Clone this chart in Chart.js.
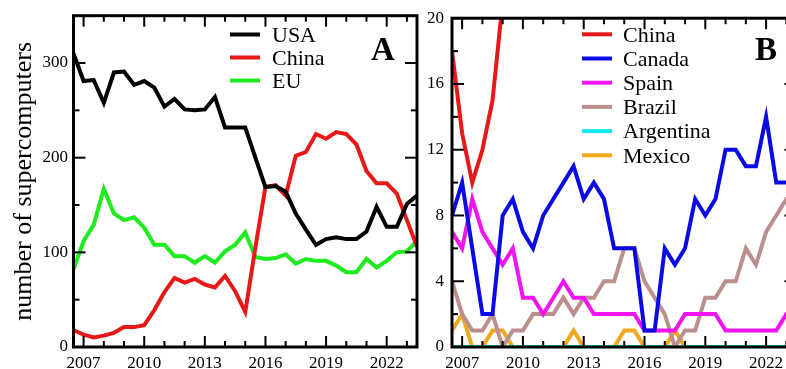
<!DOCTYPE html>
<html><head><meta charset="utf-8">
<script src="https://cdn.jsdelivr.net/npm/chart.js@4"></script>
<style>
html,body{margin:0;padding:0;background:#fff;overflow:hidden;width:786px;height:369px;}
#wrap{position:relative;width:786px;height:369px;overflow:hidden;background:#fff;}
#pa{position:absolute;left:0;top:0;width:420px;height:369px;}
#pb{position:absolute;left:420px;top:0;width:380px;height:369px;}
</style></head><body>
<div id="wrap">
  <div id="pa"><canvas id="ca" width="420" height="369"></canvas></div>
  <div id="pb"><canvas id="cb" width="380" height="369"></canvas></div>
</div>
<script>
// TOP500 list dates (June = year, November = year + 0.5)
const listDates = [2006.5,2007,2007.5,2008,2008.5,2009,2009.5,2010,2010.5,2011,2011.5,2012,2012.5,2013,2013.5,2014,2014.5,2015,2015.5,2016,2016.5,2017,2017.5,2018,2018.5,2019,2019.5,2020,2020.5,2021,2021.5,2022,2022.5,2023,2023.5];

// Panel A
const usa   = [310,281,282,258,290,291,277,281,274,254,262,251,250,251,264,232,232,232,200,169,170,164,141,124,108,114,116,114,114,122,148,127,127,151,160];
const china = [18,13,10,12,15,21,21,23,39,58,73,68,72,66,63,75,59,37,105,169,171,160,202,206,225,220,227,225,214,186,173,173,162,134,106];
const eu    = [82,112,129,167,141,134,137,126,108,108,96,96,89,96,89,101,108,121,95,93,94,98,88,93,91,91,86,79,79,93,84,91,100,101,112];

// Panel B
const canada    = [8,10,6,2,2,8,9,7,6,8,9,10,11,9,10,9,6,6,6,1,1,6,5,6,9,8,9,12,12,11,11,14,10,10,10];
const spain     = [7,6,9,7,6,5,6,3,3,2,3,4,3,3,2,2,2,2,2,1,1,1,1,2,2,2,2,1,1,1,1,1,1,2,2];
const brazil    = [4,2,1,1,2,0,1,1,2,2,2,3,2,3,3,4,4,6,6,4,3,2,0,1,1,3,3,4,4,6,5,7,8,9,9];
const argentina = [0,0,0,0,0,0,0,0,0,0,0,0,0,0,0,0,0,0,0,0,0,0,0,0,0,0,0,0,0,0,0,0,0,0,0];
const mexico    = [1,2,0,0,1,1,0,0,0,0,0,0,1,0,0,0,0,1,1,0,0,0,1,0,0,0,0,0,0,0,0,0,0,0,0];

// Axis ticks
const xTickYears  = [2007,2008,2009,2010,2011,2012,2013,2014,2015,2016,2017,2018,2019,2020,2021,2022,2023];
const xLabelYears = [2007,2010,2013,2016,2019,2022];
const yTicksA  = [0,50,100,150,200,250,300];
const yLabelsA = [0,100,200,300];
const yTicksB  = [0,2,4,6,8,10,12,14,16,18,20];
const yLabelsB = [0,4,8,12,16,20];

const SERIF = "'Liberation Serif','Times New Roman',serif";

function pts(vals){ return vals.map((v,i)=>({x:listDates[i], y:v})); }
function ds(label, vals, color){
  return {label, data:pts(vals), borderColor:color, backgroundColor:color, borderWidth:4,
          pointRadius:0, tension:0, fill:false};
}

const framePlugin = {
  id:'frame',
  afterDatasetsDraw(chart, args, o){
    const {ctx, chartArea:{left,right,top,bottom}, scales:{x,y}} = chart;
    ctx.save();
    ctx.strokeStyle = '#000';
    ctx.lineWidth = 2;
    const seg=(a,b,c,d)=>{ctx.beginPath();ctx.moveTo(a,b);ctx.lineTo(c,d);ctx.stroke();};
    x.ticks.forEach(t=>{
      const px = x.getPixelForValue(t.value);
      const L = o.xMajor.includes(t.value) ? 11 : 6;
      seg(px,bottom,px,bottom-L); seg(px,top,px,top+L);
    });
    y.ticks.forEach(t=>{
      const py = y.getPixelForValue(t.value);
      const L = o.yMajor.includes(t.value) ? 12 : 6;
      seg(left,py,left+L,py); seg(right,py,right-L,py);
    });
    ctx.lineWidth = 3;
    ctx.strokeRect(left, top, right-left, bottom-top);
    // legend
    const lg = o.legend;
    ctx.font = '22px ' + SERIF;
    ctx.textBaseline = 'middle';
    ctx.textAlign = 'left';
    chart.data.datasets.forEach((d,i)=>{
      const yy = lg.y0 + i*lg.dy;
      ctx.strokeStyle = d.borderColor; ctx.lineWidth = 4;
      seg(lg.x0, yy, lg.x1, yy);
      ctx.fillStyle = '#000';
      ctx.fillText(d.label, lg.tx, yy + 1.5);
    });
    // panel letter
    ctx.font = 'bold 33px ' + SERIF;
    ctx.textAlign = 'center';
    ctx.textBaseline = 'alphabetic';
    ctx.fillStyle = '#000';
    ctx.fillText(o.letter.text, o.letter.x, o.letter.y);
    ctx.restore();
  }
};

function makeChart(id, datasets, cfg){
  return new Chart(document.getElementById(id), {
    type:'line',
    data:{datasets},
    plugins:[framePlugin],
    options:{
      responsive:false, animation:false, events:[],
      devicePixelRatio:1,
      layout:{padding:{left:0, right:cfg.padRight, top:15, bottom:0}},
      plugins:{legend:{display:false}, tooltip:{enabled:false},
        frame:{xMajor:xLabelYears, yMajor:cfg.yMajor, legend:cfg.legend, letter:cfg.letter}},
      scales:{
        x:{type:'linear', position:'bottom', min:2006.5, max:2023.5,
           afterBuildTicks:s=>{ s.ticks = xTickYears.map(v=>({value:v})); },
           afterFit:s=>{ s.height = 22; },
           grid:{display:false, drawTicks:false}, border:{display:false},
           ticks:{autoSkip:false, maxRotation:0, minRotation:0, padding:6, color:'#000',
                  font:{family:SERIF, size:17},
                  callback:v=> xLabelYears.includes(v) ? String(v) : ''}},
        y:{type:'linear', position:'left', min:0, max:cfg.yMax,
           afterBuildTicks:s=>{ s.ticks = cfg.yTicks.map(v=>({value:v})); },
           afterFit:s=>{ s.width = cfg.yWidth; },
           grid:{display:false, drawTicks:false}, border:{display:false},
           title: cfg.title,
           ticks:{autoSkip:false, padding:cfg.yPad, color:'#000',
                  font:{family:SERIF, size:17},
                  callback:v=> cfg.yMajor.includes(v) ? String(v) : ''}}
      }
    }
  });
}

makeChart('ca', [
  ds('USA', usa, '#000000'),
  ds('China', china, '#e81818'),
  ds('EU', eu, '#1eec1e')
], {
  padRight:3, yMax:350, yTicks:yTicksA, yMajor:yLabelsA, yWidth:73.5, yPad:5.5,
  title:{display:true, text:'number of supercomputers', color:'#000',
         font:{family:SERIF, size:26, lineHeight:1}, padding:{top:11, bottom:0}},
  legend:{x0:230, x1:260, tx:272, y0:34.5, dy:23},
  letter:{text:'A', x:383, y:59.5}
});

makeChart('cb', [
  ds('China', china, '#e81818'),
  ds('Canada', canada, '#0a0ae6'),
  ds('Spain', spain, '#f014f0'),
  ds('Brazil', brazil, '#bc8f8f'),
  ds('Argentina', argentina, '#10e8e8'),
  ds('Mexico', mexico, '#f0a81e')
].reverse().reverse(), {
  padRight:3.5, yMax:20, yTicks:yTicksB, yMajor:yLabelsB, yWidth:32, yPad:8,
  title:{display:false},
  legend:{x0:162, x1:192, tx:203, y0:34.3, dy:24.2},
  letter:{text:'B', x:346, y:59.5}
});
</script>
</body></html>
